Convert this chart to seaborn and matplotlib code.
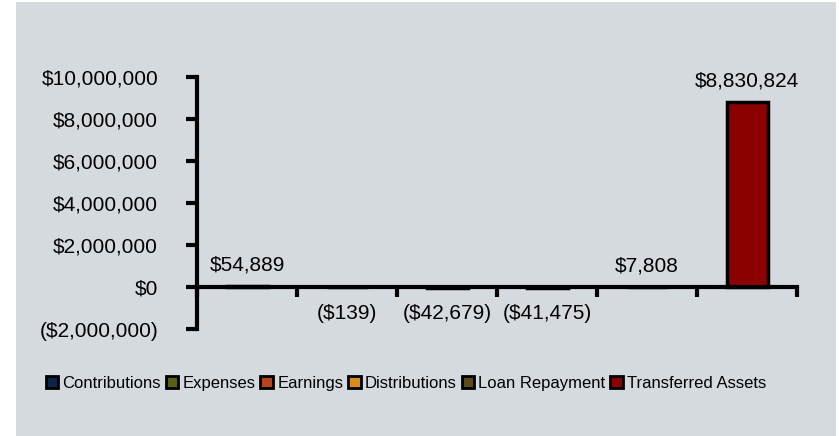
import matplotlib
matplotlib.use("Agg")
import matplotlib.pyplot as plt
import matplotlib.patches as mpatches
import matplotlib.ticker as mticker
import numpy as np
import pandas as pd
import seaborn as sns

categories = ["Contributions", "Expenses", "Earnings", "Distributions",
              "Loan Repayment", "Transferred Assets"]
values = [54889, -139, -42679, -41475, 7808, 8830824]
colors = ["#0B2447", "#5A5E17", "#B5461C", "#D88A1A", "#5E4A1C", "#8B0000"]
yticks = [-2000000, 0, 2000000, 4000000, 6000000, 8000000, 10000000]

sns.set_theme(style="white")
plt.rcParams["font.family"] = ["Liberation Sans", "DejaVu Sans"]
plt.rcParams["text.color"] = "black"
plt.rcParams["ytick.color"] = "black"
plt.rcParams["xtick.color"] = "black"

bg = "#D5DADF"
W, H = 839, 436
fig = plt.figure(figsize=(W / 100, H / 100), dpi=100, facecolor="white")
fig.patches.append(mpatches.Rectangle((16 / W, 0), 820 / W, 434 / H,
                                      transform=fig.transFigure,
                                      facecolor=bg, edgecolor="none", zorder=-5))

ax = fig.add_axes([197 / W, 107 / H, 600 / W, 252 / H])
ax.set_facecolor("none")

df = pd.DataFrame({"category": categories, "value": values})
sns.barplot(data=df, x="category", y="value", hue="category",
            palette=colors, order=categories, hue_order=categories,
            width=0.41, dodge=False, legend=False, edgecolor="black",
            linewidth=2.5, saturation=1, ax=ax)

ax.set_ylim(-2000000, 10000000)
ax.set_xlim(-0.5, len(categories) - 0.5)
ax.set_yticks(yticks)


def money(v, _pos=None):
    s = "${:,.0f}".format(abs(v))
    return "(" + s + ")" if v < 0 else s


ax.yaxis.set_major_formatter(mticker.FuncFormatter(money))
ax.set_xticks(np.arange(-0.5, len(categories), 1.0))
ax.set_xticklabels([])
ax.set_xlabel("")
ax.set_ylabel("")

for side in ("top", "right"):
    ax.spines[side].set_visible(False)
ax.spines["left"].set_linewidth(3)
ax.spines["left"].set_color("black")
ax.spines["bottom"].set_position(("data", 0))
ax.spines["bottom"].set_linewidth(3)
ax.spines["bottom"].set_color("black")
ax.tick_params(axis="y", direction="out", length=8, width=3, color="black",
               labelcolor="black", labelsize=15, pad=20, left=True)
ax.tick_params(axis="x", direction="out", length=7, width=3, color="black",
               bottom=True)

for i, v in enumerate(values):
    if v >= 0:
        ax.annotate(money(v), (i, v), xytext=(0, 8), textcoords="offset points",
                    ha="center", va="bottom", fontsize=15, color="black")
    else:
        ax.annotate(money(v), (i, 0), xytext=(0, -12), textcoords="offset points",
                    ha="center", va="top", fontsize=15, color="black")

handles = [mpatches.Patch(facecolor=c, edgecolor="black", linewidth=2, label=n)
           for c, n in zip(colors, categories)]
fig.legend(handles=handles, loc="center", bbox_to_anchor=(406 / W, 1 - 383 / H),
           ncol=6, frameon=False, fontsize=12, handlelength=0.75,
           handleheight=0.75, handletextpad=0.25, columnspacing=0.3,
           borderaxespad=0, labelcolor="black")

fig.savefig("out.png", dpi=100, facecolor="white")
